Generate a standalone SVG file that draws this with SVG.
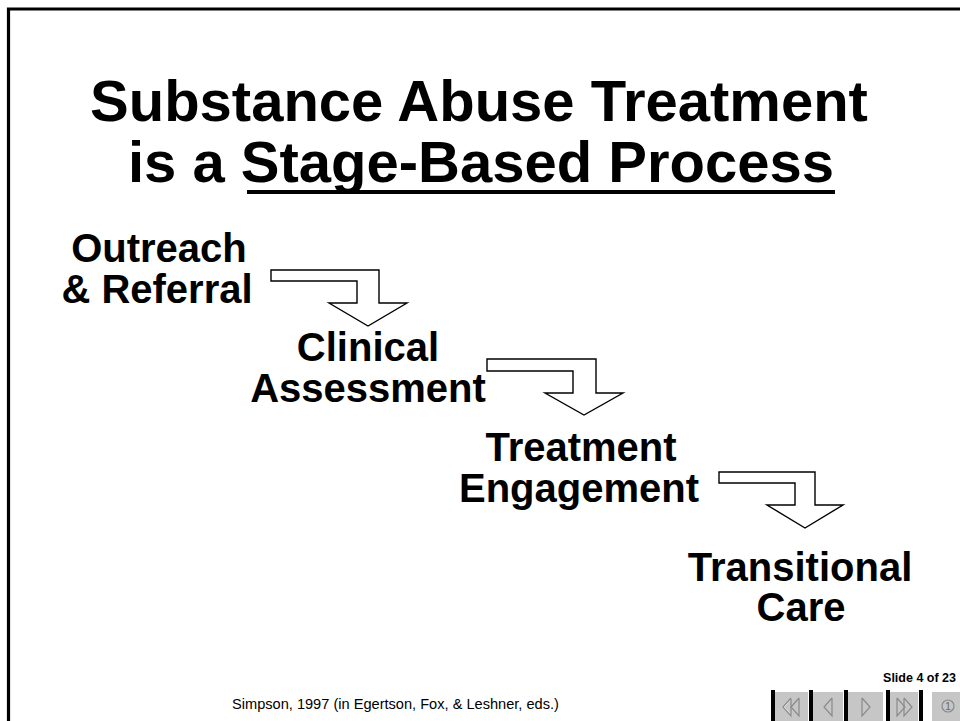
<svg xmlns="http://www.w3.org/2000/svg" width="960" height="721" viewBox="0 0 960 721">
<style>
.title{font-family:"Liberation Sans",Arial,sans-serif;font-weight:bold;font-size:58px;fill:#000}
.lbl{font-family:"Liberation Sans",Arial,sans-serif;font-weight:bold;font-size:40px;fill:#000;text-anchor:middle}
.foot{font-family:"Liberation Sans",Arial,sans-serif;font-size:14.6px;fill:#000}
.slide{font-family:"Liberation Sans",Arial,sans-serif;font-weight:bold;font-size:12.5px;fill:#000;text-anchor:end}
.arrow{fill:#fff;stroke:#000;stroke-width:1.4;stroke-linejoin:miter}
.btn{fill:#c6c6c6}
.sep{fill:#000}
.ico{fill:none;stroke:#8a8a8a;stroke-width:1.2}
.icohl{fill:none;stroke:#ffffff;stroke-width:1}
</style>
<rect width="960" height="721" fill="#fff"/>
<path d="M8.5 721 V9 H960" fill="none" stroke="#000" stroke-width="3.2"/>

<g id="title">
<text class="title" x="479" y="121" text-anchor="middle">Substance Abuse Treatment</text>
<text class="title" x="481" y="182" text-anchor="middle">is a Stage-Based Process</text>
<line x1="247" y1="192" x2="835" y2="192" stroke="#000" stroke-width="4"/>
</g>

<g id="outreach">
<text class="lbl" x="159" y="262">Outreach</text>
<text class="lbl" x="157" y="303">&amp; Referral</text>
</g>
<g id="clinical">
<text class="lbl" x="368" y="361">Clinical</text>
<text class="lbl" x="368" y="402">Assessment</text>
</g>
<g id="treatment">
<text class="lbl" x="581" y="461">Treatment</text>
<text class="lbl" x="579" y="502">Engagement</text>
</g>
<g id="transitional">
<text class="lbl" x="800" y="581">Transitional</text>
<text class="lbl" x="801" y="621">Care</text>
</g>

<g id="connectors">
<polygon class="arrow" points="271,270 379,270 379,303 407,303 368,326 329,303 357,303 357,281 271,281"/>
<polygon class="arrow" points="487,359 596,359 596,393 623,393 584,415 545,393 573,393 573,371 487,371"/>
<polygon class="arrow" points="719,472 815,472 815,505 843,505 805,528 767,505 795,505 795,483 719,483"/>
</g>

<g id="footer">
<text class="foot" x="232" y="709">Simpson, 1997 (in Egertson, Fox, &amp; Leshner, eds.)</text>
<text class="slide" x="956" y="682">Slide 4 of 23</text>
</g>

<g id="nav">
<rect class="sep" x="771" y="690" width="4" height="31"/>
<rect class="btn" x="775" y="692" width="33" height="29"/>
<rect class="sep" x="809" y="690" width="4" height="31"/>
<rect class="btn" x="813" y="692" width="30" height="29"/>
<rect class="sep" x="844" y="690" width="4" height="31"/>
<rect class="btn" x="848" y="692" width="35" height="29"/>
<rect class="sep" x="886" y="690" width="4" height="31"/>
<rect class="btn" x="890" y="692" width="28" height="29"/>
<rect class="sep" x="919" y="690" width="4" height="31"/>
<rect class="btn" x="932" y="692" width="28" height="29"/>
<polyline class="icohl" points="792,698 784,707 792,716"/>
<polyline class="ico" points="791,698 783,707 791,716 791,698"/>
<polyline class="ico" points="799,698 791,707 799,716 799,698"/>
<polyline class="ico" points="832,698 824,707 832,716 832,698"/>
<polyline class="ico" points="862,698 870,707 862,716 862,698"/>
<polyline class="ico" points="897,698 905,707 897,716 897,698"/>
<polyline class="ico" points="904,698 912,707 904,716 904,698"/>
<circle class="ico" cx="948" cy="706" r="6"/>
<text x="948" y="710" font-family="Liberation Sans,Arial,sans-serif" font-size="10" fill="#666" text-anchor="middle">1</text>
</g>
</svg>
